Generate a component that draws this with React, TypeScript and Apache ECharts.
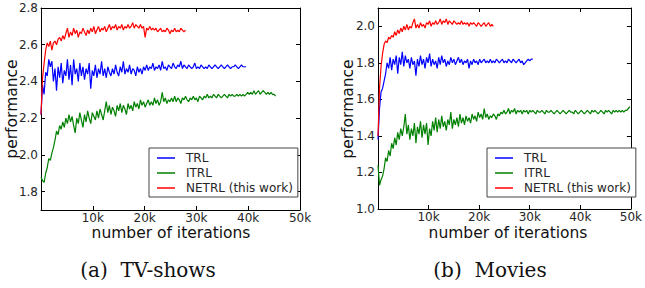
import React, { useEffect, useRef } from "react";
import * as echarts from "echarts";

// iterations between two consecutive recorded points
const STEP = 300;
const X_MAX = 50000;
const X_TICKS_INTERVAL = 10000;
const TV_Y_RANGE = [1.7, 2.8];
const MOVIES_Y_RANGE = [1.0, 2.1];
const TV_Y_TICKS = [1.8, 2.0, 2.2, 2.4, 2.6, 2.8];
const MOVIES_Y_TICKS = [1.0, 1.2, 1.4, 1.6, 1.8, 2.0];
const SERIES_NAMES = ["TRL", "ITRL", "NETRL (this work)"];
const CAPTIONS = ["(a)\u00a0 TV-shows", "(b)\u00a0 Movies"];

// (a) TV-shows
const tvNETRL = [
  2.22, 2.42, 2.5, 2.57, 2.61, 2.59, 2.62, 2.57, 2.61, 2.62, 2.6, 2.63, 2.64, 2.62, 2.65, 2.63, 2.66, 2.69, 2.64, 2.67,
  2.65, 2.69, 2.66, 2.68, 2.64, 2.67, 2.66, 2.69, 2.67, 2.65, 2.68, 2.66, 2.69, 2.67, 2.7, 2.66, 2.68, 2.7, 2.67, 2.69,
  2.68, 2.7, 2.67, 2.69, 2.71, 2.68, 2.7, 2.69, 2.71, 2.68, 2.7, 2.69, 2.71, 2.68, 2.7, 2.69, 2.71, 2.69, 2.7, 2.72,
  2.69, 2.71, 2.7, 2.69, 2.71, 2.69, 2.7, 2.64, 2.69, 2.68, 2.7, 2.68, 2.69, 2.68, 2.69, 2.67, 2.68, 2.69, 2.67, 2.68,
  2.67, 2.69, 2.68, 2.66, 2.68, 2.67, 2.69, 2.67, 2.68, 2.67, 2.69, 2.68, 2.67, 2.68,
];
const tvTRL = [
  2.22, 2.38, 2.33, 2.45, 2.43, 2.52, 2.48, 2.51, 2.4, 2.47, 2.35, 2.48, 2.42, 2.5, 2.39, 2.46, 2.43, 2.52, 2.41, 2.49,
  2.38, 2.52, 2.44, 2.47, 2.4, 2.5, 2.43, 2.48, 2.41, 2.47, 2.44, 2.5, 2.36, 2.46, 2.43, 2.49, 2.42, 2.47, 2.44, 2.51,
  2.43, 2.47, 2.42, 2.48, 2.45, 2.43, 2.47, 2.44, 2.49, 2.45, 2.43, 2.48, 2.45, 2.51, 2.44, 2.47, 2.45, 2.49, 2.44, 2.47,
  2.46, 2.43, 2.48, 2.45, 2.47, 2.44, 2.48, 2.46, 2.49, 2.46, 2.48, 2.47, 2.5, 2.46, 2.48, 2.47, 2.49, 2.46, 2.51, 2.47,
  2.48, 2.46, 2.49, 2.48, 2.47, 2.5, 2.48, 2.47, 2.49, 2.48, 2.51, 2.47, 2.49, 2.48, 2.47, 2.49, 2.48, 2.47, 2.48, 2.5,
  2.47, 2.48, 2.47, 2.49, 2.48, 2.47, 2.48, 2.47, 2.49, 2.48, 2.47, 2.48, 2.49, 2.48, 2.47, 2.48, 2.49, 2.48, 2.47, 2.48,
  2.49, 2.48, 2.47, 2.48, 2.48, 2.49, 2.48, 2.47, 2.48, 2.49, 2.48, 2.48, 2.48,
];
const tvITRL = [
  1.88, 1.86, 1.85, 1.9, 1.93, 1.98, 1.97, 2.01, 2.04, 2.08, 2.13, 2.11, 2.16, 2.14, 2.18, 2.15, 2.2, 2.17, 2.22, 2.18,
  2.21, 2.16, 2.12, 2.2, 2.17, 2.23, 2.19, 2.15, 2.22, 2.18, 2.24, 2.2, 2.17, 2.23, 2.21, 2.19, 2.24, 2.2, 2.25, 2.22,
  2.19, 2.24, 2.29, 2.23, 2.27, 2.22, 2.26, 2.24, 2.21, 2.27, 2.24, 2.28, 2.23, 2.27, 2.25, 2.22, 2.28, 2.25, 2.27, 2.24,
  2.29, 2.26, 2.28, 2.25, 2.3, 2.27, 2.29, 2.26, 2.28, 2.3, 2.27, 2.29, 2.27, 2.31, 2.28, 2.3, 2.27, 2.29, 2.34, 2.29,
  2.31, 2.28, 2.3, 2.29, 2.31, 2.29, 2.32, 2.29, 2.31, 2.3, 2.28, 2.31, 2.3, 2.32, 2.3, 2.29, 2.31, 2.3, 2.32, 2.3,
  2.31, 2.29, 2.32, 2.31, 2.3, 2.32, 2.31, 2.33, 2.31, 2.32, 2.31, 2.33, 2.32, 2.31, 2.33, 2.32, 2.31, 2.32, 2.33, 2.32,
  2.31, 2.33, 2.32, 2.33, 2.32, 2.32, 2.33, 2.32, 2.33, 2.32, 2.33, 2.32, 2.33, 2.34, 2.33, 2.34, 2.33, 2.35, 2.33, 2.34,
  2.35, 2.33, 2.34, 2.35, 2.34, 2.33, 2.34, 2.33, 2.34, 2.33, 2.33, 2.32,
];

// (b) Movies
const mvNETRL = [
  1.4, 1.66, 1.78, 1.85, 1.9, 1.92, 1.91, 1.94, 1.93, 1.95, 1.94, 1.97, 1.95, 1.98, 1.96, 1.99, 1.97, 2.0, 1.98, 2.01,
  1.98, 2.0, 1.99, 2.02, 2.04, 1.99, 2.01, 1.99, 2.02, 2.0, 2.01, 1.99, 2.02, 2.01, 2.03, 2.0, 2.02, 2.01, 2.03, 2.01,
  2.02, 2.04, 2.01, 2.03, 2.02, 2.04, 2.01, 2.03, 2.02, 2.01, 2.03, 2.02, 2.01, 2.02, 2.01, 2.03, 2.01, 2.02, 2.01, 2.02,
  2.0, 2.02, 2.01, 2.02, 2.01, 2.0, 2.02, 2.01, 2.0, 2.01, 2.02, 2.0, 2.01, 2.02, 2.0, 2.01, 2.0,
];
const mvTRL = [
  1.38, 1.55, 1.64, 1.66, 1.7, 1.74, 1.8, 1.77, 1.83, 1.76, 1.82, 1.79, 1.84, 1.74, 1.83, 1.79, 1.86, 1.78, 1.84, 1.8,
  1.82, 1.77, 1.83, 1.79, 1.81, 1.73, 1.82, 1.78, 1.84, 1.79, 1.82, 1.77, 1.83, 1.8, 1.85, 1.78, 1.82, 1.79, 1.81, 1.77,
  1.83, 1.79, 1.84, 1.8, 1.82, 1.78, 1.81, 1.79, 1.83, 1.8, 1.82, 1.79, 1.81, 1.83, 1.8, 1.82, 1.79, 1.81, 1.8, 1.82,
  1.77, 1.81, 1.79, 1.82, 1.8, 1.81, 1.79, 1.82, 1.8, 1.81, 1.82, 1.8, 1.81, 1.8, 1.82, 1.8, 1.81, 1.8, 1.82, 1.81,
  1.8, 1.81, 1.82, 1.8, 1.81, 1.8, 1.82, 1.81, 1.8, 1.82, 1.81, 1.8, 1.81, 1.82, 1.8, 1.81, 1.79, 1.8, 1.81, 1.82,
  1.81, 1.82, 1.82,
];
const mvITRL = [
  1.24, 1.13, 1.16, 1.18, 1.22, 1.28, 1.26, 1.32, 1.29, 1.36, 1.33, 1.39, 1.35, 1.42, 1.38, 1.44, 1.4, 1.45, 1.52, 1.41,
  1.46, 1.38, 1.44, 1.4, 1.47, 1.36, 1.45, 1.41, 1.48, 1.39, 1.46, 1.41, 1.47, 1.35, 1.44, 1.4, 1.48, 1.43, 1.5, 1.42,
  1.49, 1.44, 1.51, 1.45, 1.48, 1.43, 1.49, 1.46, 1.53, 1.44, 1.49, 1.46, 1.5, 1.45, 1.52, 1.47, 1.5, 1.46, 1.51, 1.48,
  1.5, 1.47, 1.52, 1.49, 1.51, 1.48, 1.53, 1.5, 1.52, 1.49, 1.55, 1.5, 1.52, 1.49, 1.51, 1.5, 1.52, 1.51, 1.49, 1.52,
  1.51, 1.53, 1.52, 1.54, 1.52, 1.53, 1.55, 1.52, 1.54, 1.53, 1.55, 1.52, 1.54, 1.53, 1.54, 1.52, 1.54, 1.53, 1.54, 1.52,
  1.54, 1.53, 1.54, 1.53, 1.52, 1.54, 1.53, 1.53, 1.54, 1.53, 1.52, 1.54, 1.53, 1.53, 1.54, 1.53, 1.52, 1.53, 1.54, 1.53,
  1.52, 1.53, 1.54, 1.53, 1.52, 1.53, 1.54, 1.53, 1.53, 1.52, 1.54, 1.53, 1.52, 1.53, 1.54, 1.53, 1.52, 1.53, 1.54, 1.53,
  1.52, 1.54, 1.53, 1.54, 1.53, 1.52, 1.53, 1.54, 1.53, 1.52, 1.54, 1.53, 1.54, 1.53, 1.52, 1.54, 1.53, 1.54, 1.53, 1.54,
  1.53, 1.54, 1.53, 1.54, 1.54, 1.55, 1.56,
];

const COLORS: Record<string, string> = {
  TRL: "#0000ff",
  ITRL: "#008000",
  "NETRL (this work)": "#ff0000",
};

const FONT = "DejaVu Sans";
const TEXT_COLOR = "#262626";

const toPoints = (vals: number[]) => vals.map((v, i) => [i * STEP, v]);

function xAxes(gridIndex: number) {
  const base = {
    gridIndex,
    type: "value",
    min: 0,
    max: X_MAX,
    interval: X_TICKS_INTERVAL,
    splitLine: { show: false },
    axisLine: { onZero: false, lineStyle: { color: "#000", width: 1 } },
    axisTick: { inside: true, length: 4, lineStyle: { color: "#000" } },
  };
  return [
    {
      ...base,
      position: "bottom",
      axisLabel: {
        fontSize: 12,
        lineHeight: 12,
        fontFamily: FONT,
        color: TEXT_COLOR,
        margin: 2,
        formatter: (v: number) => (v === 0 ? "" : `${v / 1000}k`),
      },
    },
    { ...base, position: "top", axisLabel: { show: false } },
  ];
}

function yAxes(gridIndex: number, range: number[], ticks: number[]) {
  const base = {
    gridIndex,
    type: "value",
    min: range[0],
    max: range[1],
    splitLine: { show: false },
    axisLine: { onZero: false, lineStyle: { color: "#000", width: 1 } },
    axisTick: { inside: true, length: 4, lineStyle: { color: "#000" }, customValues: ticks },
  };
  return [
    {
      ...base,
      position: "left",
      axisLabel: {
        fontSize: 12,
        fontFamily: FONT,
        color: TEXT_COLOR,
        margin: 3,
        customValues: ticks,
        formatter: (v: number) => v.toFixed(1),
      },
    },
    { ...base, position: "right", axisLabel: { show: false } },
  ];
}

function lineSeries(name: string, vals: number[], xi: number, yi: number) {
  return {
    name,
    type: "line",
    xAxisIndex: xi,
    yAxisIndex: yi,
    data: toPoints(vals),
    showSymbol: false,
    symbol: "none",
    lineStyle: { width: 1.2, color: COLORS[name] },
    itemStyle: { color: COLORS[name] },
  };
}

function legendAt(left: number) {
  return {
    data: SERIES_NAMES,
    orient: "vertical",
    left,
    top: 148,
    icon: "rect",
    itemWidth: 18,
    itemHeight: 1.5,
    itemGap: 3,
    padding: [4, 5, 3, 8],
    borderColor: "#444",
    borderWidth: 1,
    backgroundColor: "#fff",
    selectedMode: false,
    textStyle: { fontSize: 12, fontFamily: FONT, color: TEXT_COLOR, padding: [0, 0, 0, 6] },
  };
}

export default function App() {
  const ref = useRef<HTMLDivElement>(null);
  useEffect(() => {
    if (!ref.current) return;
    document.body.style.margin = "0";
    const chart = echarts.init(ref.current, null, { renderer: "svg" });
    const titleStyle = {
      fontSize: 15.5,
      lineHeight: 15,
      fontFamily: FONT,
      fill: "#111",
      align: "center",
      verticalAlign: "middle",
    };
    const captionStyle = {
      fontSize: 20,
      fontFamily: "DejaVu Serif",
      fill: "#111",
      align: "center",
      verticalAlign: "middle",
    };
    chart.setOption({
      animation: false,
      backgroundColor: "#fff",
      grid: [
        { left: 41, top: 8, width: 259, height: 202 },
        { left: 378, top: 8, width: 259, height: 201 },
      ],
      xAxis: [...xAxes(0), ...xAxes(1)],
      yAxis: [...yAxes(0, TV_Y_RANGE, TV_Y_TICKS), ...yAxes(1, MOVIES_Y_RANGE, MOVIES_Y_TICKS)],
      legend: [legendAt(149), legendAt(487)],
      series: [
        lineSeries("TRL", tvTRL, 0, 0),
        lineSeries("ITRL", tvITRL, 0, 0),
        lineSeries("NETRL (this work)", tvNETRL, 0, 0),
        lineSeries("TRL", mvTRL, 2, 2),
        lineSeries("ITRL", mvITRL, 2, 2),
        lineSeries("NETRL (this work)", mvNETRL, 2, 2),
      ],
      graphic: [
        { type: "text", x: 12, y: 109, rotation: Math.PI / 2, style: { text: "performance", ...titleStyle } },
        { type: "text", x: 348, y: 109, rotation: Math.PI / 2, style: { text: "performance", ...titleStyle } },
        { type: "text", x: 171, y: 232.5, style: { text: "number of iterations", ...titleStyle } },
        { type: "text", x: 508, y: 232.5, style: { text: "number of iterations", ...titleStyle } },
        { type: "text", x: 148, y: 270, style: { text: CAPTIONS[0], ...captionStyle } },
        { type: "text", x: 490, y: 270, style: { text: CAPTIONS[1], ...captionStyle } },
      ],
    });
    return () => chart.dispose();
  }, []);
  return <div ref={ref} style={{ position: "fixed", left: 0, top: 0, width: 645, height: 288 }} />;
}
